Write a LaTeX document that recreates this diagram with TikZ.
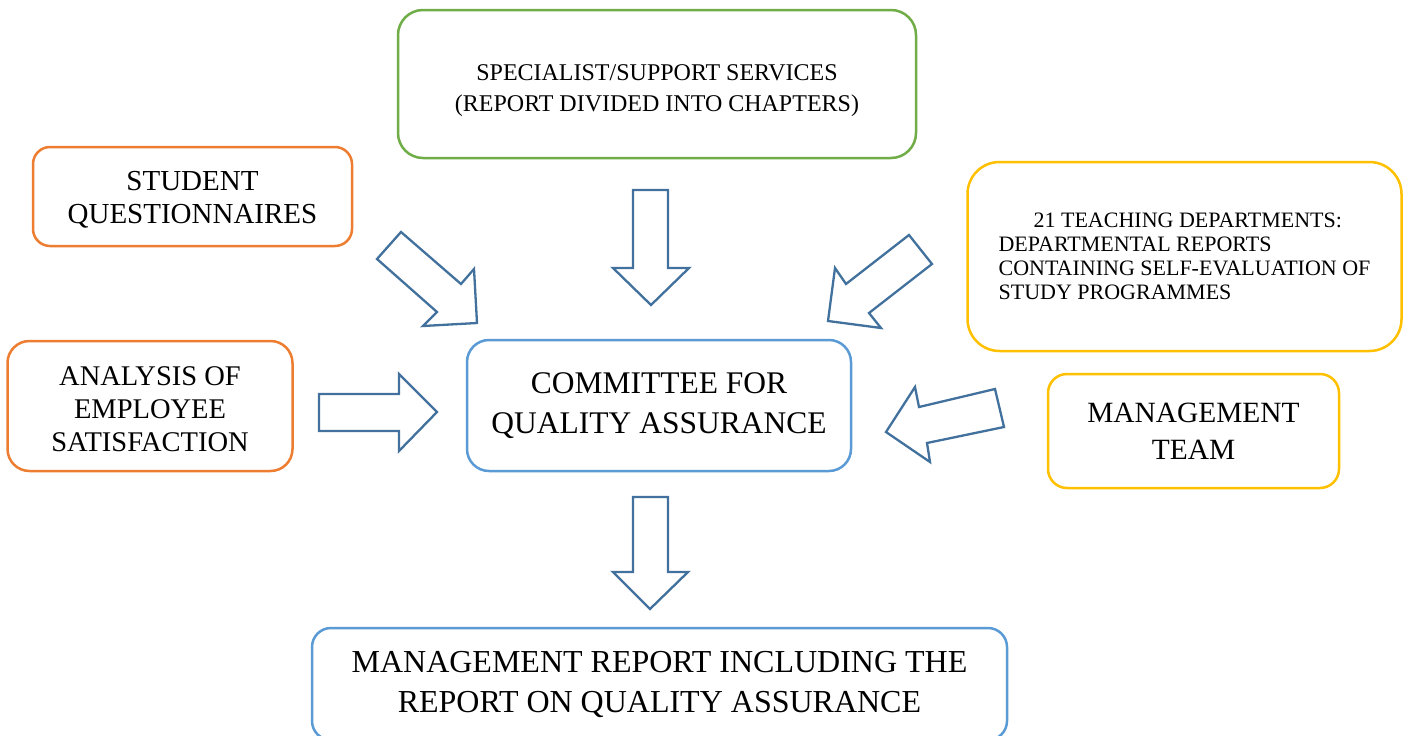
\documentclass[tikz,border=0pt]{standalone}
\usepackage{fontspec}
\setmainfont{Liberation Serif}
\definecolor{cOrange}{HTML}{ED7D31}
\definecolor{cGreen}{HTML}{70AD47}
\definecolor{cBlue}{HTML}{5B9BD5}
\definecolor{cYellow}{HTML}{FFC000}
\definecolor{cArrow}{HTML}{41719C}
\tikzset{
  box/.style={draw, line width=2.5pt, fill=white, align=center, inner sep=0pt, text=black},
  blockarrow/.style={draw=cArrow, line width=2.3pt, fill=white, line join=miter},
}
\begin{document}
\begin{tikzpicture}[x=1pt,y=-1pt]
\useasboundingbox (0,0) rectangle (1408,736);
% boxes
\node[box, draw=cGreen, rounded corners=25pt, minimum width=518pt, minimum height=148pt,
      text height=60pt, font=\fontsize{24}{31}\selectfont] (spec) at (657,84)
  {SPECIALIST/SUPPORT SERVICES\\(REPORT DIVIDED INTO CHAPTERS)};
\node[box, draw=cOrange, rounded corners=17pt, minimum width=319pt, minimum height=99pt,
      text height=59pt, font=\fontsize{29}{33}\selectfont] (stud) at (192.5,196.5)
  {STUDENT\\QUESTIONNAIRES};
\node[box, draw=cOrange, rounded corners=22pt, minimum width=285pt, minimum height=130pt,
      text height=92pt, font=\fontsize{28.5}{33.3}\selectfont] (anal) at (150,406)
  {ANALYSIS OF\\EMPLOYEE\\SATISFACTION};
\node[box, draw=cBlue, rounded corners=22pt, minimum width=384pt, minimum height=131pt,
      font=\fontsize{31.5}{40.7}\selectfont] (comm) at (659,405.5)
  {COMMITTEE FOR\\QUALITY ASSURANCE};
\node[box, draw=cYellow, rounded corners=32pt, minimum width=434pt, minimum height=189pt,
      align=left, font=\fontsize{22}{24}\selectfont] (teach) at (1184.5,256.5)
  {\hspace*{35pt}21 TEACHING DEPARTMENTS:\\DEPARTMENTAL REPORTS\\CONTAINING SELF-EVALUATION OF\\STUDY PROGRAMMES};
\node[box, draw=cYellow, rounded corners=19pt, minimum width=291pt, minimum height=114pt,
      font=\fontsize{29.4}{37}\selectfont] (mteam) at (1193.5,431)
  {MANAGEMENT\\TEAM};
\node[box, draw=cBlue, rounded corners=19pt, minimum width=695pt, minimum height=112pt,
      font=\fontsize{32}{40}\selectfont] (report) at (659.5,684)
  {MANAGEMENT REPORT INCLUDING THE\\REPORT ON QUALITY ASSURANCE};
% block arrows
\draw[blockarrow] (633,190) -- (668,190) -- (668,268) -- (689,268) -- (651,305) -- (613,268) -- (633,268) -- cycle;
\draw[blockarrow] (633,497) -- (668,497) -- (668,572) -- (688,572) -- (650,609) -- (613,572) -- (633,572) -- cycle;
\draw[blockarrow] (319,394) -- (399,394) -- (399,374) -- (437,412) -- (399,451) -- (399,431) -- (319,431) -- cycle;
\draw[blockarrow] (377,259) -- (437,312) -- (423,326) -- (477,323) -- (474,269) -- (461,284) -- (401,232) -- cycle;
\draw[blockarrow] (909,235) -- (846,284) -- (835,268) -- (828,321) -- (881,328) -- (869,313) -- (932,264) -- cycle;
\draw[blockarrow] (886,432) -- (915,387) -- (919,407) -- (995,389) -- (1004,427) -- (927,443) -- (930,462) -- cycle;
\end{tikzpicture}
\end{document}
